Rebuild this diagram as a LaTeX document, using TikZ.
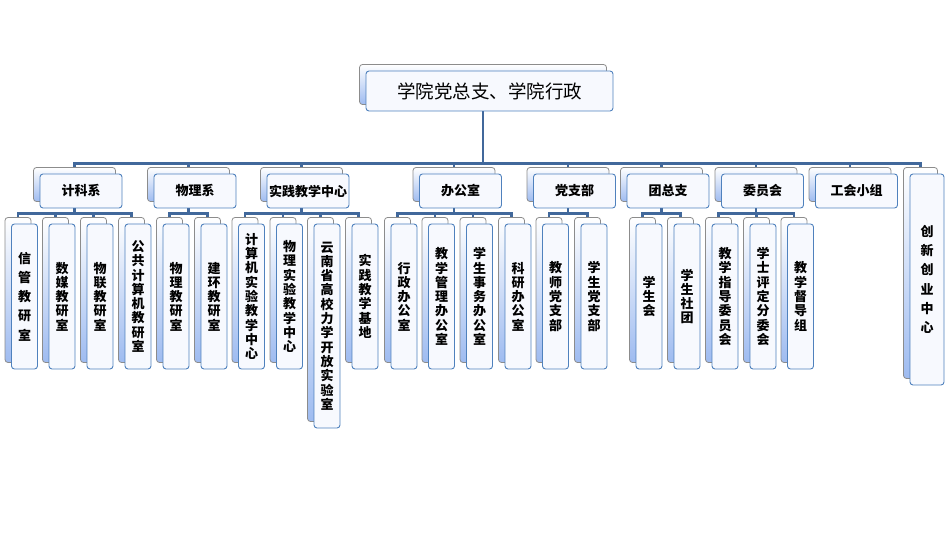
\documentclass[tikz,border=0pt]{standalone}
\usepackage{fontspec}
\newfontfamily\cjk{Noto Sans CJK SC}
\usepackage{tikz}
\usetikzlibrary{shadows,backgrounds}

\definecolor{linkblue}{RGB}{65,104,155}
\definecolor{frontblue}{RGB}{79,129,189}
\definecolor{frontfill}{RGB}{247,249,254}
\definecolor{backblue}{RGB}{158,187,240}
\definecolor{backgray}{RGB}{140,140,140}

\tikzset{
  card/.style={draw=frontblue, fill=frontfill, line width=0.9pt, rounded corners=3pt,
    inner sep=0pt, align=center,
    copy shadow={shadow xshift=-6.5pt, shadow yshift=6.5pt, draw=backgray,
      line width=0.8pt, top color=white, bottom color=backblue}},
  head/.style={card, minimum width=247pt, minimum height=40pt,
    font=\cjk\fontsize{18.5}{20}\selectfont},
  dept/.style={card, minimum width=82pt, minimum height=34pt,
    font=\cjk\bfseries\fontsize{13}{15}\selectfont},
  room/.style={card, minimum width=26pt, minimum height=145pt,
    font=\cjk\bfseries\fontsize{13}{14.3}\selectfont},
  wide/.style={font=\cjk\bfseries\fontsize{13}{19.3}\selectfont},
  link/.style={draw=linkblue, line width=2.6pt},
}

\begin{document}
\begin{tikzpicture}[x=1pt,y=-1pt]
  \useasboundingbox (0,0) rectangle (945,540);

  % top
  \node[head] (top) at (489.5,91) {学院党总支、学院行政};

  % departments
  \node[dept] (jk) at (81,191) {计科系};
  \node[dept] (wl) at (195,191) {物理系};
  \node[dept] (sj) at (308,191) {实践教学中心};
  \node[dept] (bg) at (460.5,191) {办公室};
  \node[dept] (dz) at (574.5,191) {党支部};
  \node[dept] (tz) at (668,191) {团总支};
  \node[dept] (wy) at (762.5,191) {委员会};
  \node[dept] (gh) at (856.5,191) {工会小组};
  \node[card,wide,minimum width=34pt,minimum height=211pt] (cx) at (927,279.5)
    {创\\新\\创\\业\\中\\心};

  % rooms
  \node[room,wide] (xg) at (24.5,296.5) {信\\管\\教\\研\\室};
  \node[room] (sm) at (62,296.5) {数\\媒\\教\\研\\室};
  \node[room] (wlj) at (100,296.5) {物\\联\\教\\研\\室};
  \node[room] (gg) at (138,296.5) {公\\共\\计\\算\\机\\教\\研\\室};
  \node[room] (wljy) at (176,296.5) {物\\理\\教\\研\\室};
  \node[room] (jh) at (214,296.5) {建\\环\\教\\研\\室};
  \node[room] (jsj) at (251.5,296.5) {计\\算\\机\\实\\验\\教\\学\\中\\心};
  \node[room] (wlsy) at (289.5,296.5) {物\\理\\实\\验\\教\\学\\中\\心};
  \node[room,minimum height=204pt] (yn) at (327,326)
    {云\\南\\省\\高\\校\\力\\学\\开\\放\\实\\验\\室};
  \node[room] (sjjd) at (365,296.5) {实\\践\\教\\学\\基\\地};
  \node[room] (xz) at (404,296.5) {行\\政\\办\\公\\室};
  \node[room] (jxgl) at (441.5,296.5) {教\\学\\管\\理\\办\\公\\室};
  \node[room] (xssw) at (479.5,296.5) {学\\生\\事\\务\\办\\公\\室};
  \node[room] (ky) at (518,296.5) {科\\研\\办\\公\\室};
  \node[room] (jsdz) at (555.5,296.5) {教\\师\\党\\支\\部};
  \node[room] (xsdz) at (594,296.5) {学\\生\\党\\支\\部};
  \node[room] (xsh) at (649,296.5) {学\\生\\会};
  \node[room] (xsst) at (687,296.5) {学\\生\\社\\团};
  \node[room] (jxzd) at (725,296.5) {教\\学\\指\\导\\委\\员\\会};
  \node[room] (xspd) at (763,296.5) {学\\士\\评\\定\\分\\委\\会};
  \node[room] (jxdd) at (800.5,296.5) {教\\学\\督\\导\\组};

  % links
  \begin{scope}[on background layer]
    \foreach \d in {jk,wl,sj,bg,dz,tz,wy,gh,cx}
      \draw[link] ([xshift=-6.5pt]top.south) -- ++(0,52)
        -| ([xshift=-6.5pt,yshift=6.5pt]\d.north);
    \foreach \d/\rs in {jk/{xg,sm,wlj,gg}, wl/{wljy,jh}, sj/{jsj,wlsy,yn,sjjd},
        bg/{xz,jxgl,xssw,ky}, dz/{jsdz,xsdz}, tz/{xsh,xsst}, wy/{jxzd,xspd,jxdd}}
      \foreach \r in \rs
        \draw[link] ([xshift=-6.5pt]\d.south) -- ++(0,5)
          -| ([xshift=-6.5pt,yshift=6.5pt]\r.north);
  \end{scope}
\end{tikzpicture}
\end{document}
